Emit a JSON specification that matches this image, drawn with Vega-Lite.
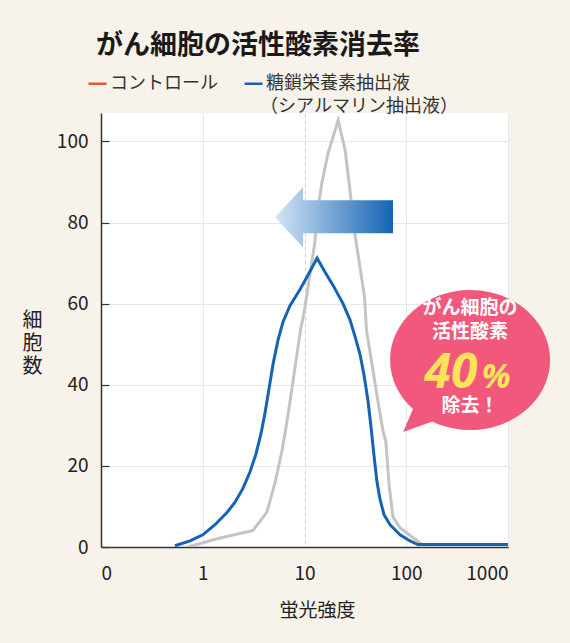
{
  "$schema": "https://vega.github.io/schema/vega-lite/v6.json",
  "width": 407,
  "height": 434,
  "autosize": "none",
  "padding": {"left": 101, "top": 113, "right": 62, "bottom": 96},
  "background": "#f7f3ea",
  "config": {
    "view": {"fill": "#ffffff", "stroke": null},
    "font": "Noto Sans CJK JP"
  },
  "title": {
    "text": "がん細胞の活性酸素消去率",
    "fontSize": 27,
    "fontWeight": "bold",
    "color": "#1a1a1a",
    "anchor": "start",
    "frame": "group",
    "dx": -5,
    "offset": 13
  },
  "datasets": {
    "curves": [
      {"series": "コントロール", "intensity": 0.71, "cells": 0},
      {"series": "コントロール", "intensity": 1.48, "cells": 2.2},
      {"series": "コントロール", "intensity": 3.09, "cells": 4.0},
      {"series": "コントロール", "intensity": 4.27, "cells": 8.6},
      {"series": "コントロール", "intensity": 5.13, "cells": 15.8},
      {"series": "コントロール", "intensity": 6.03, "cells": 23.9},
      {"series": "コントロール", "intensity": 6.76, "cells": 31.3},
      {"series": "コントロール", "intensity": 7.24, "cells": 36.2},
      {"series": "コントロール", "intensity": 9.12, "cells": 53.4},
      {"series": "コントロール", "intensity": 10, "cells": 58.4},
      {"series": "コントロール", "intensity": 11.2, "cells": 66.5},
      {"series": "コントロール", "intensity": 12.6, "cells": 74.9},
      {"series": "コントロール", "intensity": 13.5, "cells": 83},
      {"series": "コントロール", "intensity": 14.8, "cells": 89.7},
      {"series": "コントロール", "intensity": 17.0, "cells": 97},
      {"series": "コントロール", "intensity": 21.4, "cells": 105.2},
      {"series": "コントロール", "intensity": 25.1, "cells": 97.8},
      {"series": "コントロール", "intensity": 28.2, "cells": 87.2},
      {"series": "コントロール", "intensity": 31.6, "cells": 76.4},
      {"series": "コントロール", "intensity": 35.5, "cells": 68.2},
      {"series": "コントロール", "intensity": 38.9, "cells": 61.6},
      {"series": "コントロール", "intensity": 40.7, "cells": 53.4},
      {"series": "コントロール", "intensity": 52.5, "cells": 36.2},
      {"series": "コントロール", "intensity": 58.9, "cells": 28.8},
      {"series": "コントロール", "intensity": 63, "cells": 26},
      {"series": "コントロール", "intensity": 68, "cells": 15},
      {"series": "コントロール", "intensity": 74.1, "cells": 7.4},
      {"series": "コントロール", "intensity": 87.1, "cells": 4.7},
      {"series": "コントロール", "intensity": 145, "cells": 0.5},
      {"series": "コントロール", "intensity": 1000, "cells": 0.5},
      {"series": "糖鎖栄養素抽出液", "intensity": 0.533, "cells": 0.3},
      {"series": "糖鎖栄養素抽出液", "intensity": 0.75, "cells": 1.5},
      {"series": "糖鎖栄養素抽出液", "intensity": 1.0, "cells": 3},
      {"series": "糖鎖栄養素抽出液", "intensity": 1.32, "cells": 5.5},
      {"series": "糖鎖栄養素抽出液", "intensity": 1.73, "cells": 8.5},
      {"series": "糖鎖栄養素抽出液", "intensity": 2.07, "cells": 11},
      {"series": "糖鎖栄養素抽出液", "intensity": 2.49, "cells": 14.5},
      {"series": "糖鎖栄養素抽出液", "intensity": 2.91, "cells": 18.5},
      {"series": "糖鎖栄養素抽出液", "intensity": 3.34, "cells": 23},
      {"series": "糖鎖栄養素抽出液", "intensity": 3.74, "cells": 28},
      {"series": "糖鎖栄養素抽出液", "intensity": 4.09, "cells": 33},
      {"series": "糖鎖栄養素抽出液", "intensity": 4.48, "cells": 39},
      {"series": "糖鎖栄養素抽出液", "intensity": 4.9, "cells": 45},
      {"series": "糖鎖栄養素抽出液", "intensity": 5.49, "cells": 51},
      {"series": "糖鎖栄養素抽出液", "intensity": 6.15, "cells": 55.5},
      {"series": "糖鎖栄養素抽出液", "intensity": 7.2, "cells": 59.5},
      {"series": "糖鎖栄養素抽出液", "intensity": 9.03, "cells": 63.5},
      {"series": "糖鎖栄養素抽出液", "intensity": 10.8, "cells": 67},
      {"series": "糖鎖栄養素抽出液", "intensity": 13.3, "cells": 71.2},
      {"series": "糖鎖栄養素抽出液", "intensity": 15.9, "cells": 67.8},
      {"series": "糖鎖栄養素抽出液", "intensity": 19.1, "cells": 64.5},
      {"series": "糖鎖栄養素抽出液", "intensity": 23.9, "cells": 60},
      {"series": "糖鎖栄養素抽出液", "intensity": 28.0, "cells": 56},
      {"series": "糖鎖栄養素抽出液", "intensity": 31.3, "cells": 52},
      {"series": "糖鎖栄養素抽出液", "intensity": 35.1, "cells": 47.5},
      {"series": "糖鎖栄養素抽出液", "intensity": 38.4, "cells": 42.5},
      {"series": "糖鎖栄養素抽出液", "intensity": 42.1, "cells": 36},
      {"series": "糖鎖栄養素抽出液", "intensity": 45.1, "cells": 29.5},
      {"series": "糖鎖栄養素抽出液", "intensity": 48.2, "cells": 22.5},
      {"series": "糖鎖栄養素抽出液", "intensity": 51.6, "cells": 16},
      {"series": "糖鎖栄養素抽出液", "intensity": 55.2, "cells": 11.8},
      {"series": "糖鎖栄養素抽出液", "intensity": 60.4, "cells": 8},
      {"series": "糖鎖栄養素抽出液", "intensity": 69.2, "cells": 5.5},
      {"series": "糖鎖栄養素抽出液", "intensity": 86.9, "cells": 3},
      {"series": "糖鎖栄養素抽出液", "intensity": 109, "cells": 1.5},
      {"series": "糖鎖栄養素抽出液", "intensity": 130, "cells": 0.6},
      {"series": "糖鎖栄養素抽出液", "intensity": 1000, "cells": 0.6}
    ],
    "arrow": [{"intensity": 19.5, "cells": 81.3}],
    "bubble": [{"intensity": 424, "cells": 46.1}],
    "bubbleLines": [
      {"intensity": 424, "cells": 58.9, "text": "がん細胞の"},
      {"intensity": 424, "cells": 53.0, "text": "活性酸素"},
      {"intensity": 424, "cells": 34.7, "text": "除去！"}
    ],
    "bubbleNumber": [{"intensity": 275, "cells": 39.2, "text": "40"}],
    "bubblePercent": [{"intensity": 762, "cells": 39.2, "text": "%"}],
    "legendNote": [{"intensity": 3.66, "cells": 108.6, "text": "（シアルマリン抽出液）"}]
  },
  "encoding": {
    "x": {
      "field": "intensity",
      "type": "quantitative",
      "scale": {"type": "log", "domain": [0.1, 1000]},
      "axis": {
        "values": [0.1, 1, 10, 100, 1000],
        "labelExpr": "datum.value < 0.5 ? '0' : format(datum.value, 'd')",
        "ticks": false,
        "labelFontSize": 19,
        "labelColor": "#222222",
        "labelPadding": 17,
        "domainColor": "#333333",
        "domainWidth": 1.5,
        "grid": true,
        "gridColor": {"condition": {"test": "datum.value == 10", "value": "#cfcfcf"}, "value": "#e8e8e8"},
        "gridDash": {"condition": {"test": "datum.value == 10", "value": [4, 3]}, "value": []},
        "title": "蛍光強度",
        "titleFontSize": 19,
        "titleFontWeight": "normal",
        "titleColor": "#222222",
        "titleX": 216,
        "titleY": 63,
        "titleBaseline": "middle"
      }
    },
    "y": {
      "field": "cells",
      "type": "quantitative",
      "scale": {"domain": [0, 107], "nice": false},
      "axis": {
        "values": [0, 20, 40, 60, 80, 100],
        "tickSize": -8,
        "tickColor": "#333333",
        "tickWidth": 1.2,
        "labelFontSize": 19,
        "labelColor": "#222222",
        "labelPadding": 21,
        "domainColor": "#333333",
        "domainWidth": 1.5,
        "grid": true,
        "gridColor": "#e8e8e8",
        "title": ["細", "胞", "数"],
        "titleAngle": 0,
        "titleFontSize": 20,
        "titleFontWeight": "normal",
        "titleColor": "#222222",
        "titleLineHeight": 23,
        "titleX": -69,
        "titleY": 207,
        "titleAlign": "center",
        "titleBaseline": "middle"
      }
    }
  },
  "layer": [
    {
      "data": {"name": "curves"},
      "transform": [{"filter": "datum.series == 'コントロール'"}],
      "mark": {"type": "line", "color": "#c4c4c4", "strokeWidth": 3, "clip": true}
    },
    {
      "data": {"name": "curves"},
      "transform": [{"filter": "datum.series == '糖鎖栄養素抽出液'"}],
      "mark": {"type": "line", "strokeWidth": 3, "clip": true},
      "encoding": {
        "color": {
          "field": "series",
          "type": "nominal",
          "scale": {"domain": ["コントロール", "糖鎖栄養素抽出液"], "range": ["#e2572b", "#1463b4"]},
          "legend": {
            "orient": "none",
            "legendX": -14,
            "legendY": -40,
            "direction": "horizontal",
            "title": null,
            "padding": 0,
            "symbolType": "stroke",
            "symbolSize": 324,
            "symbolStrokeWidth": 2.5,
            "labelFontSize": 18,
            "labelColor": "#333333",
            "labelOffset": 2,
            "labelLimit": 0,
            "columnPadding": 21
          }
        }
      }
    },
    {
      "data": {"name": "legendNote"},
      "mark": {"type": "text", "color": "#333333", "fontSize": 18, "align": "left", "baseline": "middle"},
      "encoding": {"text": {"field": "text"}}
    },
    {
      "data": {"name": "arrow"},
      "mark": {
        "type": "point",
        "shape": "M-1,0L-0.525,-0.508L-0.525,-0.288L1,-0.288L1,0.271L-0.525,0.271L-0.525,0.508Z",
        "size": 13924,
        "filled": true,
        "opacity": 1,
        "strokeWidth": 0,
        "fill": {
          "gradient": "linear",
          "x1": 0, "y1": 0, "x2": 1, "y2": 0,
          "stops": [
            {"offset": 0, "color": "#d4e5f5"},
            {"offset": 1, "color": "#1463b4"}
          ]
        }
      }
    },
    {
      "data": {"name": "bubble"},
      "mark": {
        "type": "point",
        "shape": "M1,0C1,0.4833 0.5523,0.875 0,0.875C-0.5523,0.875 -1,0.4833 -1,0C-1,-0.4833 -0.5523,-0.875 0,-0.875C0.5523,-0.875 1,-0.4833 1,0Z M-0.7,0.58L-0.42,0.75L-0.8375,0.9Z",
        "size": 25600,
        "filled": true,
        "opacity": 1,
        "strokeWidth": 0,
        "fill": "#f1587b"
      }
    },
    {
      "data": {"name": "bubbleLines"},
      "mark": {"type": "text", "color": "#ffffff", "fontSize": 19, "fontWeight": "bold", "align": "center", "baseline": "middle"},
      "encoding": {"text": {"field": "text"}}
    },
    {
      "data": {"name": "bubbleNumber"},
      "mark": {"type": "text", "color": "#fde35c", "fontSize": 48, "fontWeight": "bold", "fontStyle": "italic", "align": "center", "baseline": "alphabetic", "font": "Noto Sans"},
      "encoding": {"text": {"field": "text"}}
    },
    {
      "data": {"name": "bubblePercent"},
      "mark": {"type": "text", "color": "#fde35c", "fontSize": 34, "fontWeight": "bold", "fontStyle": "italic", "align": "center", "baseline": "alphabetic", "font": "Noto Sans"},
      "encoding": {"text": {"field": "text"}}
    }
  ]
}
